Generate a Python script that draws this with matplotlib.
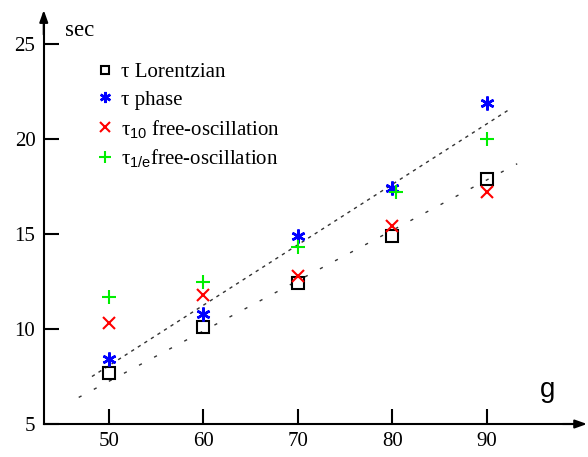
import matplotlib

matplotlib.use("Agg")
import matplotlib.pyplot as plt

plt.rcParams.update({
    "font.family": ["Liberation Serif", "DejaVu Serif"],
    "mathtext.fontset": "custom",
    "mathtext.rm": "Liberation Serif",
    "mathtext.sf": "Liberation Sans",
    "mathtext.it": "Liberation Serif:italic",
})

g_vals = [50, 60, 70, 80, 90]
g_plus = [50, 60, 70, 80.4, 90]
tau_lorentz = [7.7, 10.1, 12.4, 14.9, 17.9]
tau_phase = [8.4, 10.8, 14.9, 17.4, 21.9]
tau_10 = [10.3, 11.8, 12.8, 15.4, 17.2]
tau_1e = [11.7, 12.5, 14.3, 17.2, 20.0]

# straight fits drawn as dashed guides
fit_hi_x = [48.2, 92.5]
fit_hi_y = [7.5, 21.6]
fit_lo_x = [46.8, 93.2]
fit_lo_y = [6.4, 18.7]

x_ticks = [50, 60, 70, 80, 90]
y_ticks = [5, 10, 15, 20, 25]

labels = [
    "τ Lorentzian",
    "τ phase",
    r"τ$_{\mathsf{10}}$ free-oscillation",
    r"τ$_{\mathsf{1/e}}$free-oscillation",
]

X0, Y0 = 43.1, 5.0

fig = plt.figure(figsize=(5.88, 4.57), dpi=100)
ax = fig.add_axes([0, 0, 1, 1])
ax.set_xlim(38.47, 100.69)
ax.set_ylim(3.263, 27.32)

ax.plot(fit_hi_x, fit_hi_y, color="#333333", lw=1.0, dashes=(2.4, 3.2))
ax.plot(fit_lo_x, fit_lo_y, color="#333333", lw=1.0, dashes=(2.3, 10.0))

h1, = ax.plot(g_vals, tau_lorentz, ls="none", marker="s", ms=8, mfc="none",
              mec="black", mew=1.5)
h2, = ax.plot(g_vals, tau_phase, ls="none", marker=(6, 2, 0), ms=10,
              mec="#0000ff", mew=1.8)
h3, = ax.plot(g_vals, tau_10, ls="none", marker="x", ms=8.5,
              mec="#ff0000", mew=1.5)
h4, = ax.plot(g_plus, tau_1e, ls="none", marker="+", ms=10,
              mec="#00ee00", mew=1.5)

leg = ax.legend([h1, h2, h3, h4], labels, loc="upper left",
                bbox_to_anchor=(0.143, 0.886), frameon=False, fontsize=15,
                handlelength=1.0, handletextpad=0.27, labelspacing=0.38,
                markerscale=0.8, borderpad=0)

for side in ("top", "right"):
    ax.spines[side].set_visible(False)
ax.spines["left"].set_position(("data", X0))
ax.spines["bottom"].set_position(("data", Y0))
ax.spines["left"].set_bounds(Y0, 26.2)
ax.spines["bottom"].set_bounds(X0, 99.8)
for side in ("left", "bottom"):
    ax.spines[side].set_linewidth(1.5)

arrow = dict(arrowstyle="-|>,head_length=0.7,head_width=0.25", lw=1.5,
             color="black", shrinkA=0, shrinkB=0)
ax.annotate("", xy=(X0, 26.79), xytext=(X0, 25.5), arrowprops=arrow)
ax.annotate("", xy=(100.59, Y0), xytext=(98.0, Y0), arrowprops=arrow)

ax.set_xticks(x_ticks)
ax.set_yticks(y_ticks)
ax.tick_params(direction="in", length=11, width=1.5, labelsize=15)
ax.tick_params(axis="x", pad=6)
ax.tick_params(axis="y", pad=6)

ax.text(45.35, 25.42, "sec", fontsize=16.5, va="baseline", ha="left")
ax.text(95.6, 6.42, "g", fontsize=20, family="Liberation Sans",
        va="baseline", ha="left")

fig.savefig("out.png", dpi=100)
